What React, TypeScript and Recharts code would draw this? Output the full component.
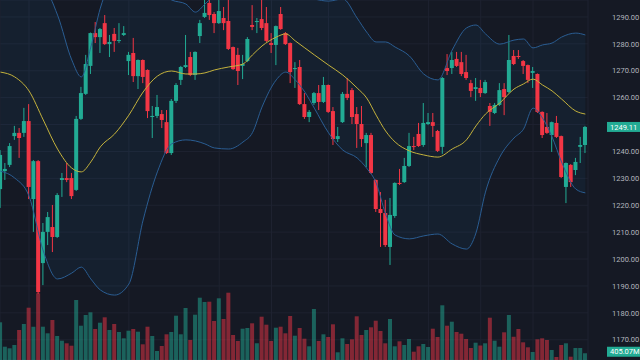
import React from "react";
import {
  ComposedChart,
  Bar,
  Line,
  Area,
  Cell,
  XAxis,
  YAxis,
  CartesianGrid,
  ReferenceLine,
} from "recharts";

const UP = "#22ab94";
const DOWN = "#f23645";
const BG = "#151924";

// daily bars, oldest first
const openP = [
  1226.0, 1232.7, 1235.0, 1245.7, 1246.9, 1246.9, 1251.3, 1222.3, 1236.4, 1198.5,
  1210.1, 1211.9, 1208.2, 1229.4, 1230.1, 1230.1, 1225.7, 1252.1, 1261.4, 1271.8,
  1284.0, 1282.5, 1287.7, 1279.9, 1283.7, 1281.1, 1283.3, 1273.6, 1276.6, 1268.0,
  1274.0, 1270.3, 1252.8, 1253.2, 1253.9, 1250.9, 1239.4, 1258.8, 1266.6, 1271.4,
  1275.1, 1268.4, 1282.9, 1290.0, 1295.2, 1291.1, 1287.7, 1289.6, 1288.5, 1278.8,
  1275.9, 1271.8, 1273.6, 1287.0, 1288.1, 1289.2, 1287.7, 1280.3, 1279.6, 1291.1,
  1284.0, 1280.3, 1270.6, 1271.4, 1257.6, 1252.8, 1258.0, 1261.7, 1258.4, 1264.7,
  1255.0, 1244.6, 1250.9, 1261.4, 1262.8, 1253.9, 1250.2, 1243.1, 1246.1, 1229.4,
  1218.6, 1217.1, 1204.5, 1216.0, 1228.3, 1228.6, 1234.6, 1242.0, 1246.5, 1242.4,
  1250.2, 1250.9, 1247.6, 1241.7, 1271.0, 1271.0, 1274.4, 1273.2, 1269.5, 1265.4,
  1263.2, 1263.6, 1261.7, 1256.9, 1254.3, 1257.3, 1263.2, 1262.1, 1275.5, 1275.5,
  1273.6, 1272.1, 1269.2, 1268.8, 1254.7, 1249.1, 1246.1, 1250.6, 1245.7, 1226.8,
  1235.0, 1233.1, 1241.7, 1242.4,
];
const highP = [
  1240.5, 1235.7, 1243.1, 1249.5, 1248.7, 1256.2, 1257.6, 1236.8, 1236.8, 1213.4,
  1217.5, 1220.1, 1224.5, 1232.0, 1235.7, 1232.0, 1253.2, 1264.0, 1275.9, 1284.2,
  1288.1, 1285.9, 1290.7, 1283.3, 1285.9, 1287.7, 1286.6, 1277.0, 1282.2, 1274.2,
  1274.2, 1270.5, 1256.9, 1261.0, 1255.4, 1255.4, 1259.5, 1265.4, 1271.8, 1283.3,
  1277.0, 1277.2, 1288.9, 1296.5, 1296.8, 1291.8, 1297.0, 1293.7, 1297.5, 1279.0,
  1278.5, 1275.9, 1282.5, 1294.4, 1289.6, 1297.0, 1293.7, 1284.0, 1286.8, 1293.7,
  1284.4, 1280.5, 1273.2, 1274.0, 1261.7, 1255.4, 1262.1, 1264.7, 1267.7, 1264.9,
  1256.5, 1249.1, 1262.1, 1267.3, 1263.6, 1256.5, 1256.9, 1246.9, 1246.9, 1229.6,
  1224.9, 1222.0, 1222.7, 1228.5, 1233.5, 1237.6, 1246.9, 1245.4, 1250.6, 1258.0,
  1254.3, 1254.3, 1248.0, 1267.7, 1276.2, 1277.0, 1277.0, 1277.0, 1275.9, 1266.6,
  1267.3, 1266.6, 1266.6, 1258.0, 1258.0, 1265.4, 1265.4, 1283.3, 1277.7, 1277.7,
  1274.0, 1272.3, 1271.4, 1269.0, 1254.9, 1254.3, 1251.1, 1253.2, 1245.9, 1235.9,
  1235.3, 1237.6, 1245.4, 1249.5,
];
const lowP = [
  1219.0, 1229.4, 1234.2, 1244.3, 1237.6, 1245.4, 1222.3, 1210.1, 1187.0, 1190.3,
  1205.2, 1202.6, 1207.8, 1223.1, 1228.6, 1222.3, 1225.3, 1251.7, 1261.0, 1268.8,
  1280.3, 1276.6, 1279.6, 1275.1, 1277.0, 1280.3, 1282.9, 1268.4, 1265.8, 1263.2,
  1265.4, 1252.4, 1245.0, 1252.4, 1248.7, 1239.1, 1238.7, 1258.0, 1264.7, 1271.0,
  1268.0, 1266.6, 1280.3, 1289.6, 1288.9, 1284.0, 1287.4, 1285.1, 1277.7, 1270.3,
  1264.7, 1266.9, 1273.2, 1285.1, 1284.0, 1285.1, 1280.7, 1276.6, 1272.1, 1285.2,
  1279.6, 1265.4, 1263.6, 1257.3, 1252.1, 1250.9, 1257.3, 1255.4, 1258.0, 1254.3,
  1242.4, 1243.5, 1250.6, 1259.1, 1250.2, 1241.3, 1241.7, 1234.2, 1231.6, 1217.5,
  1204.5, 1204.5, 1197.8, 1215.3, 1227.5, 1228.3, 1234.2, 1240.5, 1241.7, 1241.7,
  1249.8, 1245.4, 1239.8, 1239.1, 1268.4, 1268.8, 1271.4, 1268.0, 1266.6, 1260.2,
  1258.8, 1260.2, 1261.4, 1249.5, 1253.9, 1256.9, 1253.5, 1261.7, 1272.1, 1274.4,
  1268.8, 1265.4, 1263.6, 1254.3, 1245.0, 1246.5, 1239.8, 1245.0, 1230.1, 1220.8,
  1226.8, 1231.2, 1235.7, 1239.4,
];
const closeP = [
  1238.7, 1233.5, 1242.0, 1246.9, 1245.0, 1251.3, 1226.8, 1236.4, 1187.7, 1210.1,
  1215.6, 1208.2, 1223.8, 1230.1, 1229.4, 1223.4, 1252.1, 1261.7, 1272.5, 1284.0,
  1282.5, 1285.5, 1279.9, 1280.7, 1281.1, 1281.4, 1284.0, 1275.9, 1268.0, 1274.0,
  1267.7, 1255.0, 1253.2, 1256.5, 1251.7, 1239.4, 1258.8, 1264.7, 1271.4, 1272.1,
  1268.4, 1277.0, 1287.7, 1291.5, 1290.7, 1287.7, 1292.2, 1287.7, 1278.1, 1270.6,
  1269.9, 1272.5, 1281.8, 1286.3, 1288.5, 1285.9, 1281.1, 1279.6, 1286.6, 1285.5,
  1279.9, 1269.5, 1271.0, 1257.6, 1252.8, 1254.7, 1261.7, 1258.4, 1264.7, 1254.7,
  1244.6, 1245.7, 1261.4, 1259.9, 1252.8, 1250.2, 1244.6, 1246.1, 1232.0, 1218.6,
  1217.1, 1205.2, 1216.4, 1228.3, 1227.9, 1234.6, 1242.0, 1241.7, 1242.0, 1250.6,
  1250.9, 1249.5, 1240.2, 1267.3, 1269.9, 1274.0, 1271.8, 1268.8, 1267.3, 1262.5,
  1263.9, 1261.7, 1265.8, 1254.7, 1257.3, 1262.8, 1260.2, 1274.0, 1272.5, 1275.1,
  1271.8, 1266.6, 1269.9, 1254.7, 1246.1, 1246.9, 1250.9, 1245.4, 1230.5, 1235.7,
  1228.6, 1236.1, 1242.4, 1249.11,
];
// volume in millions
const volumeM = [
  2262, 798, 702, 900, 1800, 2160, 3138, 1998, 4002, 1998,
  1602, 2400, 1440, 1158, 1002, 858, 3600, 2058, 2700, 2862,
  1860, 2238, 2562, 1800, 2160, 1680, 1302, 1758, 1860, 1698,
  942, 1998, 1440, 540, 840, 1542, 1680, 2658, 1542, 3120,
  1200, 2718, 3738, 3480, 3498, 2340, 3702, 2460, 4038, 1500,
  1140, 1878, 1920, 2202, 1002, 2598, 2118, 1140, 1938, 1998,
  1602, 2640, 1458, 1920, 1278, 822, 3060, 1140, 1542, 1380,
  2142, 462, 1302, 960, 1242, 2622, 1500, 1800, 1962, 2358,
  1740, 1002, 2460, 822, 1122, 900, 1260, 498, 822, 960,
  780, 1878, 1380, 3282, 2058, 2298, 1680, 1578, 1260, 720,
  1038, 870, 1002, 2538, 1158, 798, 1662, 2700, 1398, 1860,
  1062, 762, 480, 1242, 1302, 1200, 600, 180, 900, 1002,
  198, 720, 720, 405.07,
];

// bollinger band readings (bar index -> price)
const bandIdx = [
  0, 3, 6, 9, 12, 15, 17, 19, 21, 24, 27, 30, 33, 36, 39, 41, 43, 45, 48, 51,
  53, 55, 58, 60, 62, 64, 66, 69, 72, 75, 77, 79, 81, 83, 86, 89, 92, 95, 98, 100,
  102, 105, 108, 110, 112, 114, 116, 118, 121, 123,
];
const bandUpper = [
  1306.3, 1305.2, 1301.5, 1300.8, 1290.7, 1274.0, 1267.7, 1278.8, 1293.3, 1305.6,
  1311.2, 1307.5, 1300.0, 1296.3, 1294.8, 1291.8, 1294.8, 1298.2, 1301.9, 1301.9,
  1304.5, 1301.9, 1299.3, 1297.8, 1298.2, 1297.8, 1296.7, 1295.9, 1296.7, 1289.6,
  1284.4, 1280.7, 1280.7, 1278.8, 1275.5, 1268.8, 1266.6, 1277.7, 1285.9, 1287.0,
  1283.7, 1279.9, 1281.4, 1281.8, 1278.5, 1279.6, 1280.3, 1282.5, 1284.0, 1283.3,
];
const bandMid = [
  1269.5, 1267.7, 1262.5, 1251.7, 1240.9, 1233.8, 1232.4, 1236.1, 1241.7, 1246.5,
  1253.5, 1262.1, 1268.0, 1269.9, 1268.8, 1268.8, 1269.2, 1270.3, 1271.4, 1272.5,
  1275.9, 1279.2, 1282.5, 1283.7, 1281.1, 1278.5, 1275.9, 1272.1, 1268.4, 1263.6,
  1259.9, 1253.5, 1247.6, 1243.5, 1240.2, 1238.7, 1237.9, 1240.9, 1244.3, 1249.5,
  1253.9, 1258.0, 1263.2, 1265.1, 1266.9, 1264.7, 1262.5, 1259.5, 1255.0, 1253.9,
];
const bandLower = [
  1232.7, 1230.1, 1223.4, 1203.0, 1192.6, 1194.8, 1197.0, 1192.6, 1188.5, 1186.6,
  1190.7, 1214.5, 1232.4, 1242.8, 1244.3, 1243.9, 1242.8, 1241.3, 1240.9, 1243.5,
  1247.0, 1256.5, 1266.6, 1269.5, 1266.6, 1262.1, 1256.1, 1246.9, 1240.5, 1237.6,
  1233.8, 1228.3, 1216.7, 1208.9, 1207.5, 1208.6, 1209.3, 1205.6, 1203.7, 1209.7,
  1224.9, 1237.9, 1245.0, 1248.3, 1256.1, 1252.4, 1245.4, 1236.1, 1226.0, 1224.6,
];

const priceTicks = [1170, 1180, 1190, 1200, 1210, 1220, 1230, 1240, 1250, 1260, 1270, 1280, 1290];
const timeTicks = [6, 27, 46, 57, 69, 90, 101, 112];

const bars = openP.map((o, i) => ({
  i,
  open: o,
  high: highP[i],
  low: lowP[i],
  close: closeP[i],
  volume: volumeM[i],
}));

const band = bandIdx.map((i, n) => ({
  i,
  upper: bandUpper[n],
  mid: bandMid[n],
  lower: bandLower[n],
}));

const lastBar = bars[bars.length - 1];
const FONT = "Roboto, 'Noto Sans', sans-serif";

function Candle(props: any) {
  const { x, y, width, height, payload } = props;
  if (!payload) return <g />;
  const { open, close, high, low } = payload;
  const color = close >= open ? UP : DOWN;
  const top = Math.min(y, y + height);
  const h = Math.abs(height);
  const k = h / (high - low);
  const bodyTop = top + (high - Math.max(open, close)) * k;
  const bodyH = Math.max(Math.abs(open - close) * k, 1);
  const cx = x + width / 2;
  return (
    <g>
      <line x1={cx} x2={cx} y1={top} y2={top + h} stroke={color} strokeWidth={1} />
      <rect x={x} y={bodyTop} width={width} height={bodyH} fill={color} />
    </g>
  );
}

function PriceTick(props: any) {
  const { x, y, payload } = props;
  // the last-price tag covers this one
  if (Math.abs(payload.value - lastBar.close) < 4) return <g />;
  return (
    <text x={x} y={y} dy="0.355em" fill="#b2b5be" fontSize={7.5} fontFamily={FONT} textAnchor="start">
      {payload.value.toFixed(2)}
    </text>
  );
}

function Tag(props: any) {
  const { viewBox, text, color, lift = 0 } = props;
  if (!viewBox) return <g />;
  const x = viewBox.x + viewBox.width + 19;
  const cy = viewBox.y - lift;
  return (
    <g>
      <rect x={x} y={cy - 5} width={34} height={10} fill={color} />
      <text x={x + 3} y={cy} dy="0.355em" fill="#ffffff" fontSize={7.5} fontFamily={FONT}>
        {text}
      </text>
    </g>
  );
}

export default function App() {
  return (
    <div style={{ position: "fixed", left: 0, top: 0, width: 640, height: 360, background: BG }}>
      <ComposedChart width={640} height={360} data={bars} margin={{ top: 0, right: 0, bottom: 0, left: 0 }}>
        <XAxis xAxisId="p" dataKey="i" type="number" domain={[-0.1, 123.56]} ticks={timeTicks} hide allowDataOverflow />
        <XAxis xAxisId="v" dataKey="i" type="number" domain={[-0.1, 123.56]} hide allowDataOverflow />
        <YAxis
          yAxisId="price"
          orientation="right"
          width={52}
          domain={[1162.47, 1296.3]}
          allowDataOverflow
          ticks={priceTicks}
          tick={<PriceTick />}
          tickLine={false}
          axisLine={false}
          tickMargin={18}
        />
        <YAxis yAxisId="vol" domain={[0, 21600]} hide allowDataOverflow />
        <CartesianGrid xAxisId="p" yAxisId="price" stroke="#1e2230" strokeWidth={1} />

        <Area
          xAxisId="p"
          yAxisId="price"
          data={band}
          dataKey={(d: any) => [d.lower, d.upper]}
          type="monotone"
          stroke="none"
          fill="#2196f3"
          fillOpacity={0.06}
          dot={false}
          activeDot={false}
          isAnimationActive={false}
        />
        <Line xAxisId="p" yAxisId="price" data={band} dataKey="upper" type="monotone" stroke="#2a5d92" strokeWidth={1} dot={false} activeDot={false} isAnimationActive={false} />
        <Line xAxisId="p" yAxisId="price" data={band} dataKey="lower" type="monotone" stroke="#2a5d92" strokeWidth={1} dot={false} activeDot={false} isAnimationActive={false} />
        <Line xAxisId="p" yAxisId="price" data={band} dataKey="mid" type="monotone" stroke="#c4b23c" strokeWidth={1} dot={false} activeDot={false} isAnimationActive={false} />

        <Bar xAxisId="v" yAxisId="vol" dataKey="volume" barSize={4} isAnimationActive={false}>
          {bars.map((b) => (
            <Cell key={b.i} fill={b.close >= b.open ? UP : DOWN} fillOpacity={0.5} />
          ))}
        </Bar>
        <Bar
          xAxisId="p"
          yAxisId="price"
          dataKey={(d: any) => [d.low, d.high]}
          barSize={4}
          shape={<Candle />}
          activeBar={false}
          isAnimationActive={false}
        />

        <ReferenceLine
          xAxisId="p"
          yAxisId="price"
          y={lastBar.close}
          stroke="none"
          label={<Tag text={lastBar.close.toFixed(2)} color={UP} />}
        />
        <ReferenceLine
          xAxisId="v"
          yAxisId="vol"
          y={lastBar.volume}
          stroke="none"
          label={<Tag text={lastBar.volume.toFixed(2) + "M"} color={UP} lift={1.5} />}
        />
      </ComposedChart>
    </div>
  );
}
